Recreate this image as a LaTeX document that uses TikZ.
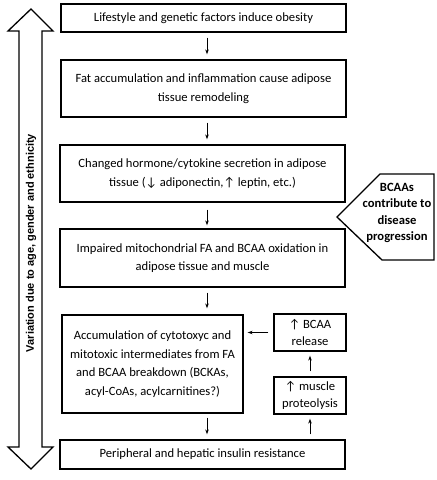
\documentclass[tikz,border=0pt]{standalone}
\usepackage{fontspec}
\setmainfont{Carlito}
\newfontfamily\arialf{Liberation Sans}
\usetikzlibrary{arrows.meta,calc}
\begin{document}
\begin{tikzpicture}[x=1pt,y=-1pt,
  box/.style={draw,line width=1.3pt,align=center,inner sep=1pt,font=\fontsize{12.6}{18.5}\selectfont},
  arr/.style={-{Stealth[length=5pt,width=3.5pt]},line width=0.8pt}]
\useasboundingbox (0,0) rectangle (437,480);
\node[box,minimum width=285pt,minimum height=28pt] (b1) at (203.5,18) {Lifestyle and genetic factors induce obesity};
\node[box,minimum width=285pt,minimum height=57pt] (b2) at (203.5,88.5) {Fat accumulation and inflammation cause adipose\\tissue remodeling};
\node[box,minimum width=285pt,minimum height=57pt] (b3) at (202.5,173.5) {Changed hormone/cytokine secretion in adipose\\tissue (↓ adiponectin,↑ leptin, etc.)};
\node[box,minimum width=285pt,minimum height=58pt] (b4) at (202.5,258) {Impaired mitochondrial FA and BCAA oxidation in\\adipose tissue and muscle};
\node[box,minimum width=181pt,minimum height=98pt] (b5) at (152.5,364) {Accumulation of cytotoxyc and\\mitotoxic intermediates from FA\\and BCAA breakdown (BCKAs,\\acyl-CoAs, acylcarnitines?)};
\node[box,minimum width=72pt,minimum height=37pt,font=\fontsize{12.6}{16.5}\selectfont] (rel) at (310,332.5) {↑ BCAA\\release};
\node[box,minimum width=72pt,minimum height=37pt,font=\fontsize{12.6}{16.5}\selectfont] (pro) at (310,395.5) {↑ muscle\\proteolysis};
\node[box,minimum width=285pt,minimum height=29pt] (b6) at (202.5,454.5) {Peripheral and hepatic insulin resistance};
\coordinate (ax) at (207,0);
\draw[arr,shorten <=5pt,shorten >=5pt] (b1.south -| ax) -- (b2.north -| ax);
\draw[arr,shorten <=5pt,shorten >=5pt] (b2.south -| ax) -- (b3.north -| ax);
\draw[arr,shorten <=7pt,shorten >=3pt] (b3.south -| ax) -- (b4.north -| ax);
\draw[arr,shorten <=5pt,shorten >=6pt] (b4.south -| ax) -- (b5.north -| ax);
\draw[arr,shorten <=4pt,shorten >=5pt] (b5.south -| ax) -- (b6.north -| ax);
\draw[arr,shorten <=5pt,shorten >=4pt] (rel.west) -- (rel.west -| b5.east);
\draw[arr,shorten <=5pt,shorten >=4pt] (pro.north) -- (rel.south);
\draw[arr,shorten <=5pt,shorten >=4pt] (pro.south |- b6.north) -- (pro.south);
% pentagon
\draw[line width=1.3pt,line join=miter] (380,174) -- (434,174) -- (434,260) -- (382,260) -- (337,217) -- cycle;
\node[align=center,font=\bfseries\fontsize{12.6}{16.3}\selectfont] (pent) at (397,213) {BCAAs\\contribute to\\disease\\progression};
% left double arrow
\draw[line width=1.3pt,line join=miter] (31,9) -- (53,31) -- (42,31) -- (42,447) -- (53,447) -- (31,469) -- (8,447) -- (19,447) -- (19,31) -- (8,31) -- cycle;
\node[rotate=90,font=\arialf\bfseries\fontsize{11}{12}\selectfont] (var) at (31,243) {Variation due to age, gender and ethnicity};
\end{tikzpicture}
\end{document}
